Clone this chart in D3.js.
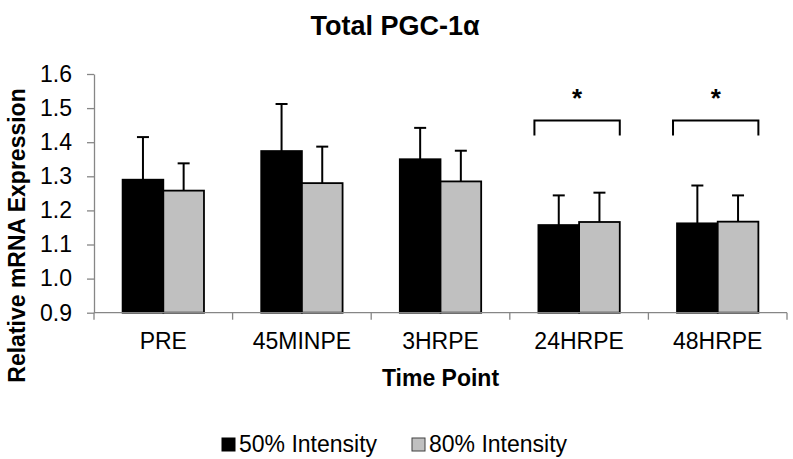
<!DOCTYPE html>
<html>
<head>
<meta charset="utf-8">
<script src="https://cdn.jsdelivr.net/npm/d3@7"></script>
<style>
  body { margin: 0; background: #fff; }
  svg { font-family: "Liberation Sans", Arial, sans-serif; }
</style>
</head>
<body>
<svg id="chart" width="793" height="459"></svg>
<script>
const categories = ['PRE', '45MINPE', '3HRPE', '24HRPE', '48HRPE'];
const seriesNames = ['50% Intensity', '80% Intensity'];
const means50 = [1.290, 1.374, 1.350, 1.157, 1.162];
const errors50 = [0.125, 0.138, 0.092, 0.087, 0.111];
const means80 = [1.258, 1.280, 1.285, 1.166, 1.167];
const errors80 = [0.080, 0.107, 0.090, 0.086, 0.077];
const yTicks = [0.9, 1.0, 1.1, 1.2, 1.3, 1.4, 1.5, 1.6];
const significant = ['24HRPE', '48HRPE'];
const bracketTop = 1.464;
const bracketLeg = 1.42;

const colors = { '50% Intensity': '#000000', '80% Intensity': '#c0c0c0' };
const axisGrey = '#868686';

window.onload = () => {
  const svg = d3.select('#chart');
  const margin = { left: 94, right: 6, top: 74, bottom: 146 };
  const width = 793, height = 459;

  // rows for bars
  const rows = categories.map((c, i) => ({
    cat: c,
    values: [
      { series: seriesNames[0], mean: means50[i], err: errors50[i] },
      { series: seriesNames[1], mean: means80[i], err: errors80[i] }
    ]
  }));

  const x = d3.scaleBand()
              .domain(categories)
              .range([margin.left, width - margin.right])
              .padding(0);

  const groupW = x.bandwidth() * 0.587;
  const xSub = d3.scaleBand()
                 .domain(seriesNames)
                 .range([(x.bandwidth() - groupW) / 2, (x.bandwidth() + groupW) / 2])
                 .padding(0);

  const y = d3.scaleLinear()
              .domain([0.9, 1.6])
              .range([height - margin.bottom - 0.3, margin.top]);

  // title
  svg.append('text')
     .attr('x', 395)
     .attr('y', 35)
     .attr('text-anchor', 'middle')
     .style('font-weight', 'bold')
     .style('font-size', '27px')
     .text('Total PGC-1α');

  // y axis
  const yAxis = d3.axisLeft(y)
                  .tickValues(yTicks)
                  .tickFormat(d3.format('.1f'))
                  .tickSize(7)
                  .tickSizeOuter(0)
                  .tickPadding(15);

  const gy = svg.append('g')
                .attr('transform', `translate(${margin.left}, 0)`)
                .call(yAxis);
  gy.selectAll('path, line').attr('stroke', axisGrey).attr('stroke-width', 1.3);
  gy.selectAll('text')
    .attr('fill', '#000')
    .style('font-size', '23px')
    .style('font-family', '"Liberation Sans", Arial, sans-serif');

  // bars
  const groups = svg.append('g')
                    .selectAll('g')
                    .data(rows)
                    .enter()
                    .append('g')
                      .attr('transform', d => `translate(${x(d.cat)}, 0)`);

  // error bars (drawn behind bars)
  groups.selectAll('g.err')
        .data(d => d.values)
        .enter()
        .append('g')
          .classed('err', true)
          .each(function(d) {
            const g = d3.select(this);
            const cx = xSub(d.series) + xSub.bandwidth() / 2;
            g.append('line')
             .attr('x1', cx).attr('x2', cx)
             .attr('y1', y(d.mean)).attr('y2', y(d.mean + d.err))
             .attr('stroke', '#000').attr('stroke-width', 2);
            g.append('line')
             .attr('x1', cx - 6).attr('x2', cx + 6)
             .attr('y1', y(d.mean + d.err)).attr('y2', y(d.mean + d.err))
             .attr('stroke', '#000').attr('stroke-width', 2);
          });

  groups.selectAll('rect')
        .data(d => d.values)
        .enter()
        .append('rect')
          .attr('x', d => xSub(d.series))
          .attr('y', d => y(d.mean))
          .attr('width', xSub.bandwidth())
          .attr('height', d => y(0.9) - y(d.mean))
          .attr('fill', d => colors[d.series])
          .attr('stroke', '#000')
          .attr('stroke-width', 1.8);

  // x axis: line and ticks on category boundaries
  const gx = svg.append('g');
  const x0 = x.range()[0], x1 = x.range()[1];
  const base = y(0.9);
  gx.append('line')
    .attr('x1', x0).attr('x2', x1)
    .attr('y1', base).attr('y2', base)
    .attr('stroke', axisGrey).attr('stroke-width', 1.3);
  const bounds = categories.map(c => x(c)).concat([x1]);
  gx.selectAll('line.tick')
    .data(bounds)
    .enter()
    .append('line')
      .classed('tick', true)
      .attr('x1', d => d).attr('x2', d => d)
      .attr('y1', base).attr('y2', base + 7)
      .attr('stroke', axisGrey).attr('stroke-width', 1.3);
  gx.selectAll('text')
    .data(categories)
    .enter()
    .append('text')
      .attr('x', d => x(d) + x.bandwidth() / 2)
      .attr('y', 349)
      .attr('text-anchor', 'middle')
      .style('font-size', '23px')
      .text(d => d);

  // significance brackets
  const sig = svg.append('g');
  significant.forEach(c => {
    const bx0 = x(c) + xSub(seriesNames[0]) - 4;
    const bx1 = x(c) + xSub(seriesNames[1]) + xSub.bandwidth();
    sig.append('path')
       .attr('d', `M${bx0},${y(bracketLeg)}V${y(bracketTop)}H${bx1}V${y(bracketLeg)}`)
       .attr('fill', 'none')
       .attr('stroke', '#000')
       .attr('stroke-width', 2);
    sig.append('text')
       .attr('x', (bx0 + bx1) / 2)
       .attr('y', 107)
       .attr('text-anchor', 'middle')
       .style('font-weight', 'bold')
       .style('font-size', '26px')
       .text('*');
  });

  // axis titles
  svg.append('text')
     .attr('x', (x0 + x1) / 2)
     .attr('y', 386)
     .attr('text-anchor', 'middle')
     .style('font-weight', 'bold')
     .style('font-size', '23px')
     .text('Time Point');

  svg.append('text')
     .attr('transform', 'translate(25, 235.5) rotate(-90)')
     .attr('text-anchor', 'middle')
     .style('font-weight', 'bold')
     .style('font-size', '23px')
     .text('Relative mRNA Expression');

  // legend
  const legendX = [222, 412];
  const legend = svg.append('g')
                    .selectAll('g')
                    .data(seriesNames)
                    .enter()
                    .append('g')
                      .attr('transform', (d, i) => `translate(${legendX[i]}, 438)`);
  legend.append('rect')
        .attr('width', 13).attr('height', 13)
        .attr('fill', d => colors[d])
        .attr('stroke', d => d === seriesNames[0] ? '#000' : '#404040')
        .attr('stroke-width', 1);
  legend.append('text')
        .attr('x', 17)
        .attr('y', 14)
        .style('font-size', '23px')
        .text(d => d);
};
</script>
</body>
</html>
